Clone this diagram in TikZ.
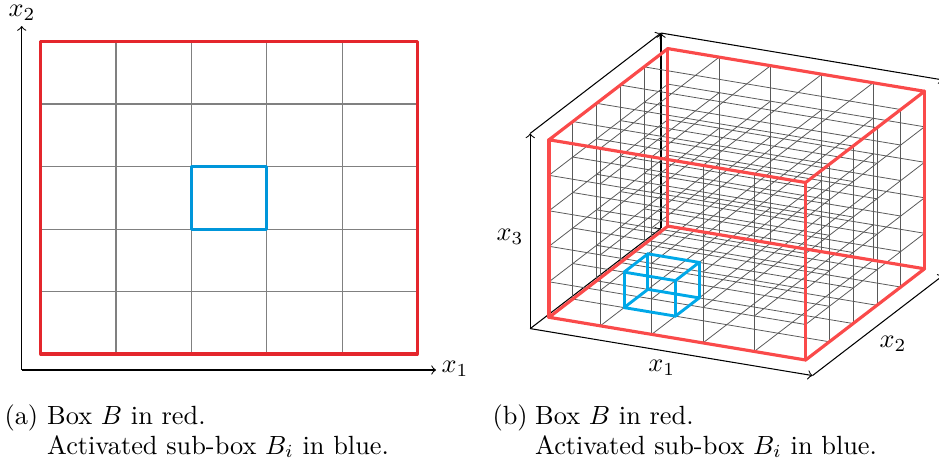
\documentclass[tikz,border=0pt]{standalone}
\usepackage{tikz}
\definecolor{boxreda}{RGB}{228,38,44}
\definecolor{boxredb}{RGB}{250,74,74}
\definecolor{boxbluea}{RGB}{0,150,218}
\definecolor{boxblueb}{RGB}{0,168,232}
\tikzset{
  grida/.style={draw=black!50, line width=0.4pt},
  gridb/.style={draw=black!65, line width=0.3pt},
  redboxa/.style={draw=boxreda, line width=1.15pt, line join=round},
  blueboxa/.style={draw=boxbluea, line width=1.1pt, line join=round},
  redboxb/.style={draw=boxredb, line width=1.2pt, line join=round, line cap=round},
  blueboxb/.style={draw=boxblueb, line width=1.1pt, line join=round, line cap=round},
  axisline/.style={draw=black, line width=0.4pt, ->},
  axlab/.style={inner sep=0pt},
  captxt/.style={inner sep=0pt, anchor=base west}
}
\begin{document}
\begin{tikzpicture}[x=0.38pt,y=-0.38pt]
\useasboundingbox (0,0) rectangle (939,466);
% ---------- panel (a) ----------
\foreach \xx in {116,191.3,266.7,342.3} \draw[grida] (\xx,41.7) -- (\xx,354);
\foreach \yy in {104,166.3,229.3,291.7} \draw[grida] (40.7,\yy) -- (417.3,\yy);
\draw[redboxa] (40.7,41.7) rectangle (417.3,354);
\draw[blueboxa] (191.3,166.3) rectangle (266.7,229.3);
\coordinate (oa) at (21.7,370);
\coordinate (xa) at (436,370);
\coordinate (ya) at (21.7,26);
\draw[axisline] (oa) -- (xa);
\draw[axisline] (oa) -- (ya);
\node[axlab] (lx1a) at (455,369) {$x_1$};
\node[axlab] (lx2a) at (22,12.5) {$x_2$};
% ---------- panel (b) ----------
\begin{scope}[shift={(549,317.3)}, x={(19.502pt,-3.245pt)}, y={(9.036pt,6.931pt)}, z={(0pt,13.49pt)}]
  \coordinate (O) at (-0.25,-0.25,-0.25);
  \coordinate (X1) at (5.25,-0.25,-0.25);
  \coordinate (X2) at (-0.25,5.25,-0.25);
  \coordinate (X3) at (-0.25,-0.25,5.25);
  \coordinate (X12) at (5.25,5.25,-0.25);
  \coordinate (X23) at (-0.25,5.25,5.25);
  \coordinate (X123) at (5.25,5.25,5.25);
  \draw[axisline] (O) -- (X1);
  \draw[axisline] (O) -- (X2);
  \draw[axisline] (O) -- (X3);
  \draw[axisline] (X2) -- (X23);
  \draw[axisline] (X3) -- (X23);
  \draw[axisline] (X23) -- (X123);
  \draw[axisline] (X1) -- (X12);
  % lattice
  \foreach \k in {0,...,5} {
    \foreach \j in {0,...,5} \draw[gridb] (0,\j,\k) -- (5,\j,\k);
    \foreach \i in {0,...,5} \draw[gridb] (\i,0,\k) -- (\i,5,\k);
  }
  \foreach \j in {0,...,5} {
    \draw[gridb] (0,\j,0) -- (0,\j,5);
    \draw[gridb] (5,\j,0) -- (5,\j,5);
  }
  \foreach \i in {1,...,4} {
    \draw[gridb] (\i,0,0) -- (\i,0,5);
    \draw[gridb] (\i,5,0) -- (\i,5,5);
  }
  % red box
  \draw[redboxb] (0,0,0) -- (5,0,0) -- (5,5,0) -- (0,5,0) -- cycle;
  \draw[redboxb] (0,0,5) -- (5,0,5) -- (5,5,5) -- (0,5,5) -- cycle;
  \draw[redboxb] (0,0,0) -- (0,0,5);
  \draw[redboxb] (5,0,0) -- (5,0,5);
  \draw[redboxb] (5,5,0) -- (5,5,5);
  \draw[redboxb] (0,5,0) -- (0,5,5);
  % blue box
  \draw[blueboxb] (1,1,0) -- (2,1,0) -- (2,2,0) -- (1,2,0) -- cycle;
  \draw[blueboxb] (1,1,1) -- (2,1,1) -- (2,2,1) -- (1,2,1) -- cycle;
  \draw[blueboxb] (1,1,0) -- (1,1,1);
  \draw[blueboxb] (2,1,0) -- (2,1,1);
  \draw[blueboxb] (2,2,0) -- (2,2,1);
  \draw[blueboxb] (1,2,0) -- (1,2,1);
\end{scope}
\node[axlab] (lx1b) at (661.7,368.3) {$x_1$};
\node[axlab] (lx2b) at (893,344) {$x_2$};
\node[axlab] (lx3b) at (510,237) {$x_3$};
% ---------- captions ----------
\node[captxt] (capa) at (4,424) {(a)};
\node[captxt] (capa1) at (46.7,424) {Box $B$ in red.};
\node[captxt] (capa2) at (46.7,454) {Activated sub-box $B_i$ in blue.};
\node[captxt] (capb) at (492,424) {(b)};
\node[captxt] (capb1) at (534.7,424) {Box $B$ in red.};
\node[captxt] (capb2) at (534.7,454) {Activated sub-box $B_i$ in blue.};
\end{tikzpicture}
\end{document}
